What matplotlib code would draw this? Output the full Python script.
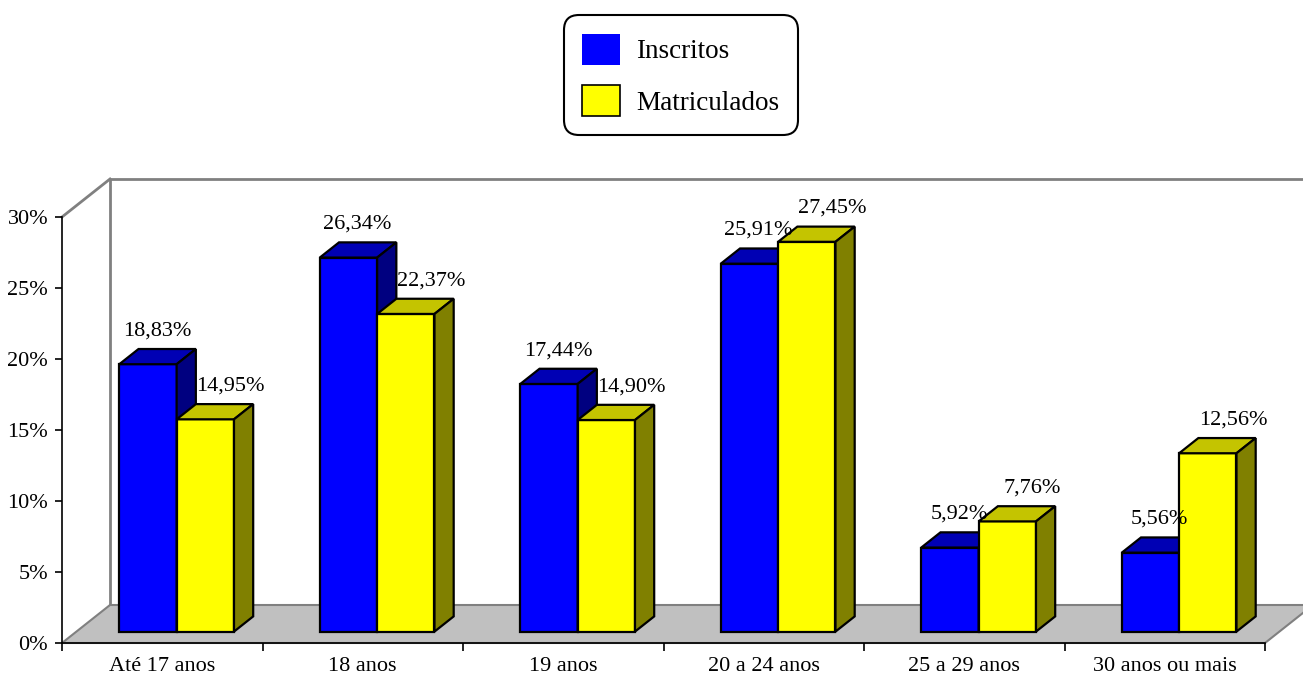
import matplotlib
matplotlib.use("Agg")
import matplotlib.pyplot as plt
from matplotlib.patches import Polygon, Patch
from matplotlib.ticker import FixedLocator, NullFormatter

categories = ["Até 17 anos", "18 anos", "19 anos", "20 a 24 anos", "25 a 29 anos", "30 anos ou mais"]
inscritos = [18.83, 26.34, 17.44, 25.91, 5.92, 5.56]
matriculados = [14.95, 22.37, 14.90, 27.45, 7.76, 12.56]
series_names = ["Inscritos", "Matriculados"]
y_ticks = [0, 5, 10, 15, 20, 25, 30]

plt.rcParams['font.family'] = ['Liberation Serif', 'DejaVu Serif']

fig = plt.figure(figsize=(13.03, 6.79), dpi=100)
ax = fig.add_axes([62 / 1303, 36 / 679, 1203 / 1303, 426 / 679])
ncat = len(categories)
ymax = 30
ax.set_xlim(0, ncat)
ax.set_ylim(0, ymax)
ax.patch.set_alpha(0)

# 3D depth of the plot box (data units)
DX, DY = 0.2394, 2.676
F0, F1 = 0.3, 0.7
bar_w = 0.286
gap_left = 0.214
ddx, ddy = (F1 - F0) * DX, (F1 - F0) * DY

# floor
floor = Polygon([(0, 0), (ncat, 0), (ncat + DX, DY), (DX, DY)], closed=True,
                fc='#C0C0C0', ec='#808080', lw=1.5, clip_on=False, zorder=1)
ax.add_patch(floor)
# back wall edges
ax.plot([DX, DX, ncat + DX + 1], [DY, ymax + DY, ymax + DY], color='#808080', lw=2,
        clip_on=False, zorder=1, solid_capstyle='butt')
ax.plot([0, DX], [ymax, ymax + DY], color='#808080', lw=2, clip_on=False, zorder=1)

colors = [
    dict(front='#0000FF', top='#0000B4', side='#000080'),
    dict(front='#FFFF00', top='#C4C400', side='#808000'),
]
lab_dx = [0.045, 0.125]

for i in range(ncat):
    for s, vals in enumerate([inscritos, matriculados]):
        v = vals[i]
        c = colors[s]
        x0 = i + gap_left + s * bar_w + F0 * DX
        y0 = F0 * DY
        yt = y0 + v
        x1 = x0 + bar_w
        kw = dict(closed=True, ec='black', lw=1.6, clip_on=False, zorder=3 + i * 0.01 + s * 0.001,
                  joinstyle='miter')
        ax.add_patch(Polygon([(x0, y0), (x1, y0), (x1, yt), (x0, yt)], fc=c['front'], **kw))
        ax.add_patch(Polygon([(x0, yt), (x1, yt), (x1 + ddx, yt + ddy), (x0 + ddx, yt + ddy)],
                             fc=c['top'], **kw))
        ax.add_patch(Polygon([(x1, y0), (x1 + ddx, y0 + ddy), (x1 + ddx, yt + ddy), (x1, yt)],
                             fc=c['side'], **kw))
        ax.annotate(f"{v:.2f}%".replace('.', ','), xy=((x0 + x1) / 2 + lab_dx[s], yt),
                    xytext=(0, 24), textcoords='offset points', ha='center', va='center',
                    fontsize=16, zorder=5)

# axes styling
for sp in ['top', 'right']:
    ax.spines[sp].set_visible(False)
ax.spines['left'].set_color('black')
ax.spines['bottom'].set_color('black')
ax.spines['left'].set_linewidth(1.2)
ax.spines['bottom'].set_linewidth(1.2)
ax.spines['left'].set_zorder(2)
ax.spines['bottom'].set_zorder(2)

ax.set_yticks(y_ticks)
ax.set_yticklabels([f"{t}%" for t in y_ticks])
ax.tick_params(axis='y', direction='out', length=5, width=1.2, labelsize=16, pad=5)

ax.xaxis.set_major_locator(FixedLocator(list(range(ncat + 1))))
ax.xaxis.set_major_formatter(NullFormatter())
ax.xaxis.set_minor_locator(FixedLocator([i + 0.5 for i in range(ncat)]))
ax.set_xticklabels(categories, minor=True)
ax.tick_params(axis='x', which='major', direction='out', length=6, width=1.2)
ax.tick_params(axis='x', which='minor', length=0, labelsize=16, pad=10)

handles = [Patch(fc='#0000FF', ec='#0000FF', lw=0),
           Patch(fc='#FFFF00', ec='black', lw=1.2)]
leg = fig.legend(handles=handles, labels=series_names, loc='center',
                 bbox_to_anchor=(681 / 1303, 1 - 75 / 679), fontsize=19.5, frameon=True,
                 fancybox=True, edgecolor='black', framealpha=1, handlelength=1.4,
                 handleheight=1.4, labelspacing=0.75, borderpad=0.68, handletextpad=0.6)
leg.get_frame().set_linewidth(1.5)
leg.get_frame().set_boxstyle('round', pad=0, rounding_size=0.55)

fig.savefig('out.png', dpi=100)
